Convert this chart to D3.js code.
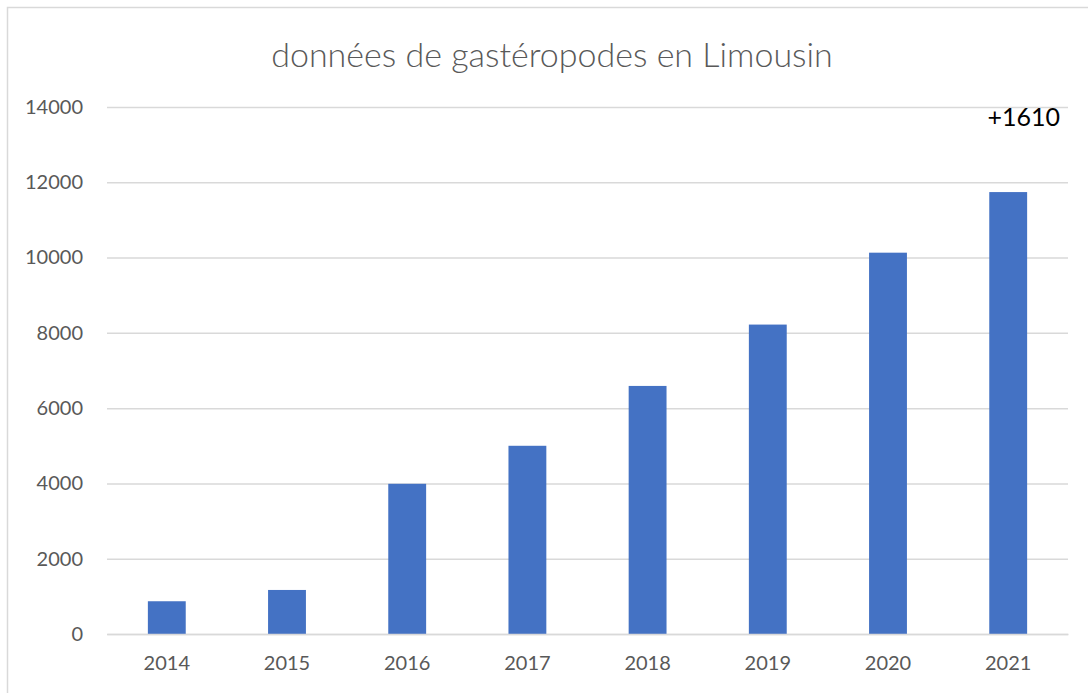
<!DOCTYPE html>
<html>
<head>
<meta charset="utf-8">
<script src="https://cdn.jsdelivr.net/npm/d3@7"></script>
<style>
  body { margin: 0; background: #fff; }
  text { font-family: Lato, "Open Sans", sans-serif; }
</style>
</head>
<body>
<div id="chart"></div>
<script>
// values
var years = ["2014", "2015", "2016", "2017", "2018", "2019", "2020", "2021"];
var counts = [870, 1170, 3990, 5000, 6590, 8220, 10130, 11740];
var yTicks = [0, 2000, 4000, 6000, 8000, 10000, 12000, 14000];
var titleText = "données de gastéropodes en Limousin";
var noteText = "+1610";

var width = 1088, height = 693;
var margin = {top: 107, right: 20, bottom: 59, left: 107};

var svg = d3.select("#chart")
    .append("svg")
    .attr("width", width)
    .attr("height", height);

// outer frame of the chart
svg.append("rect")
    .attr("x", 7.5).attr("y", 7.5)
    .attr("width", width).attr("height", height)
    .attr("fill", "none")
    .attr("stroke", "#d9d9d9")
    .attr("stroke-width", 1.5);

var x = d3.scaleBand()
    .domain(years)
    .range([margin.left, width - margin.right])
    .paddingInner(0.685)
    .paddingOuter(0.34);

var y = d3.scaleLinear()
    .domain([0, 14000])
    .range([height - margin.bottom, margin.top]);

// gridlines
var yAxis = d3.axisLeft(y)
    .tickValues(yTicks)
    .tickSize(-(width - margin.right - margin.left))
    .tickPadding(24)
    .tickFormat(d3.format("d"));

var gy = svg.append("g")
    .attr("transform", "translate(" + margin.left + ",0)")
    .call(yAxis);
gy.select(".domain").remove();
gy.selectAll(".tick line").attr("stroke", "#d9d9d9").attr("stroke-width", 1.5);
gy.selectAll(".tick text")
    .attr("fill", "#595959")
    .style("font-size", "20px");

// bars
svg.selectAll("rect.bar")
    .data(counts)
    .enter()
    .append("rect")
        .attr("class", "bar")
        .attr("fill", "#4472c4")
        .attr("x", function (d, i) { return x(years[i]); })
        .attr("width", x.bandwidth())
        .attr("y", function (d) { return y(d); })
        .attr("height", function (d) { return y(0) - y(d); });

// x labels
var gx = svg.append("g")
    .attr("transform", "translate(0," + y(0) + ")")
    .call(d3.axisBottom(x).tickSize(0).tickPadding(22));
gx.select(".domain").attr("stroke", "#d9d9d9").attr("stroke-width", 1.5);
gx.selectAll(".tick text")
    .attr("fill", "#595959")
    .style("font-size", "20px");

// title
svg.append("text")
    .attr("x", 552)
    .attr("y", 67)
    .attr("text-anchor", "middle")
    .attr("fill", "#595959")
    .style("font-size", "34px")
    .style("font-weight", "300")
    .text(titleText);

// annotation above the last bar
svg.append("text")
    .attr("x", 1060)
    .attr("y", 126)
    .attr("text-anchor", "end")
    .attr("fill", "#000")
    .style("font-size", "25px")
    .text(noteText);
</script>
</body>
</html>
